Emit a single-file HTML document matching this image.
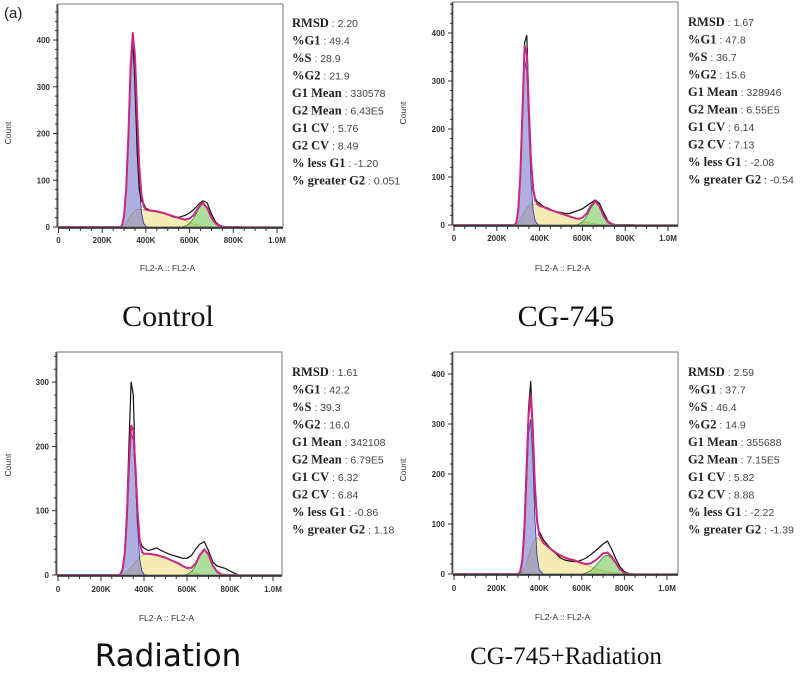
<!DOCTYPE html>
<html><head><meta charset="utf-8">
<style>
html,body{margin:0;padding:0;background:#fff;}
body{width:800px;height:679px;overflow:hidden;position:relative;font-family:"Liberation Sans",sans-serif;}
svg{position:absolute;left:0;top:0;}
</style></head>
<body>
<svg id="chart" width="800" height="679" viewBox="0 0 800 679"></svg>
<script>
// Shared x grid (FL2-A in K units)
const xs = [280,290,300,310,320,330,340,350,360,370,380,390,400,420,440,460,480,500,520,540,560,580,600,620,640,660,680,700,720,740,760,780,800,820,840];
const xTicks = [0,200,400,600,800,1000];
const xTickLabels = ["0","200K","400K","600K","800K","1.0M"];

// Control
const ctrlG1 = [0,2,20,75,180,320,385,330,200,90,30,8,1,0,0,0,0,0,0,0,0,0,0,0,0,0,0,0,0,0,0,0,0,0,0];
const ctrlS  = [0,0,2,8,16,24,30,35,38,38,38,37,36,35,34,32,30,27,24,21,18,14,10,6,4,2,1,0,0,0,0,0,0,0,0];
const ctrlG2 = [0,0,0,0,0,0,0,0,0,0,0,0,0,0,0,0,0,0,0,0,0,2,8,20,38,50,40,20,7,2,0,0,0,0,0];
const ctrlData=[0,3,22,80,190,340,410,300,160,80,55,50,40,36,35,33,30,27,22,20,22,25,30,38,48,56,52,28,10,3,1,0,0,0,0];
const ctrlStats = ["2.20","49.4","28.9","21.9","330578","6.43E5","5.76","8.49","-1.20","0.051"];
// CG-745
const cgG1 = [0,3,25,90,220,345,320,200,90,30,8,2,0,0,0,0,0,0,0,0,0,0,0,0,0,0,0,0,0,0,0,0,0,0,0];
const cgS  = [0,0,5,12,20,28,35,40,44,44,43,42,40,37,33,30,27,24,21,18,15,12,9,6,4,2,1,0,0,0,0,0,0,0,0];
const cgG2 = [0,0,0,0,0,0,0,0,0,0,0,0,0,0,0,0,0,0,0,0,0,1,6,18,36,48,38,18,6,1,0,0,0,0,0];
const cgData=[0,3,30,100,240,380,395,250,140,80,55,48,45,38,35,30,28,26,24,24,27,30,34,40,46,52,45,25,8,2,0,0,0,0,0];
const cgStats = ["1.67","47.8","36.7","15.6","328946","6.55E5","6.14","7.13","-2.08","-0.54"];
// Radiation
const radG1 = [0,1,8,30,80,160,220,210,150,75,25,6,1,0,0,0,0,0,0,0,0,0,0,0,0,0,0,0,0,0,0,0,0,0,0];
const radS  = [0,0,0,2,5,8,12,16,20,24,28,30,32,33,32,31,29,27,24,21,18,14,10,6,3,1,0,0,0,0,0,0,0,0,0];
const radG2 = [0,0,0,0,0,0,0,0,0,0,0,0,0,0,0,0,0,0,0,0,0,0,1,5,15,30,40,32,15,5,1,0,0,0,0];
const radData=[0,2,10,35,100,200,300,280,160,80,55,45,42,38,40,42,38,35,32,30,28,26,26,30,40,48,52,38,20,14,12,10,6,3,0];
const radStats = ["1.61","42.2","39.3","16.0","342108","6.79E5","6.32","6.84","-0.86","1.18"];
// CG-745 + Radiation
const comboG1 = [0,0,0,3,20,70,170,280,310,230,110,35,8,0,0,0,0,0,0,0,0,0,0,0,0,0,0,0,0,0,0,0,0,0,0];
const comboS  = [0,0,0,0,5,12,22,35,48,60,68,72,70,62,55,48,42,37,33,30,28,25,22,18,15,12,9,7,5,3,2,1,0,0,0];
const comboG2 = [0,0,0,0,0,0,0,0,0,0,0,0,0,0,0,0,0,0,0,0,0,0,0,2,6,14,24,34,38,32,20,8,2,0,0];
const comboData=[0,0,0,5,30,100,220,330,385,300,160,100,85,68,58,48,40,32,28,26,25,25,28,32,38,45,52,60,66,50,30,14,5,1,0];
const comboStats = ["2.59","37.7","46.4","14.9","355688","7.15E5","5.82","8.88","-2.22","-1.39"];

const statLabels = ["RMSD","%G1","%S","%G2","G1 Mean","G2 Mean","G1 CV","G2 CV","% less G1","% greater G2"];

const NS="http://www.w3.org/2000/svg";
const svg=document.getElementById('chart');
function mk(tag,attrs,parent){const e=document.createElementNS(NS,tag);for(const k in attrs)e.setAttribute(k,attrs[k]);(parent||svg).appendChild(e);return e;}

const panels=[
 {id:'control',title:'Control',tfont:'"Liberation Serif",serif',tsize:30,tx:168,ty:326,box:{l:58,r:283,t:4,b:227},x0:58.5,x1:277,ppu:0.4675,ymax:400,g1:ctrlG1,s:ctrlS,g2:ctrlG2,d:ctrlData,st:ctrlStats,sx:292,sy:23,cx:8,cy:133,lx:240,fy:268},
 {id:'cg745',title:'CG-745',tfont:'"Liberation Serif",serif',tsize:30,tx:566,ty:326,box:{l:453,r:678,t:2,b:225},x0:454,x1:668,ppu:0.48,ymax:400,g1:cgG1,s:cgS,g2:cgG2,d:cgData,st:cgStats,sx:688,sy:22,cx:403,cy:113,lx:238,fy:268},
 {id:'radiation',title:'Radiation',tfont:'"DejaVu Sans","Liberation Sans",sans-serif',tsize:31,tx:168,ty:666,box:{l:57,r:282,t:352,b:575},x0:58,x1:273,ppu:0.643,ymax:300,g1:radG1,s:radS,g2:radG2,d:radData,st:radStats,sx:292,sy:372,cx:8,cy:465,lx:589,fy:618},
 {id:'cg745-radiation',title:'CG-745+Radiation',tfont:'"Liberation Serif",serif',tsize:25,tx:566,ty:664,box:{l:453,r:678,t:352,b:574},x0:454,x1:667,ppu:0.5,ymax:400,g1:comboG1,s:comboS,g2:comboG2,d:comboData,st:comboStats,sx:688,sy:372,cx:403,cy:470,lx:588,fy:617}
];

const lbl=mk('text',{x:4,y:18,'font-size':15,fill:'#222','font-family':'"Liberation Sans",sans-serif'});
lbl.textContent='(a)';



panels.forEach(p=>{
 const g=mk('g',{});
 
 
 const X=v=>p.x0+v/1000*(p.x1-p.x0);
 const Y=v=>p.box.b-v*p.ppu;
 const clip=mk('clipPath',{id:'clip-'+p.id},g);
 mk('rect',{x:p.box.l,y:p.box.t,width:p.box.r-p.box.l,height:p.box.b-p.box.t},clip);
 const plot=mk('g',{'clip-path':'url(#clip-'+p.id+')'},g);
 function area(arr,fill,stroke,name){
  let d='M'+X(xs[0])+','+Y(0);
  xs.forEach((x,i)=>{d+=' L'+X(x).toFixed(1)+','+Y(arr[i]).toFixed(1);});
  d+=' L'+X(xs[xs.length-1])+','+Y(0)+' Z';
  const e=mk('path',{d:d,fill:fill,stroke:stroke,'stroke-width':0.8},plot);
  
  
 }
 function line(arr,stroke,w,name){
  let d='';
  xs.forEach((x,i)=>{d+=(i?' L':'M')+X(x).toFixed(1)+','+Y(arr[i]).toFixed(1);});
  const e=mk('path',{d:d,fill:'none',stroke:stroke,'stroke-width':w,'stroke-linejoin':'round'},plot);
  
  
 }
 area(p.s,'rgba(240,225,140,0.65)','#c9bd50','s-phase-area');
 area(p.g2,'rgba(120,200,90,0.6)','#2e8b2e','g2-area');
 area(p.g1,'rgba(110,110,200,0.55)','#3030a0','g1-area');
 const fit=xs.map((x,i)=>p.g1[i]+p.s[i]+p.g2[i]);
 line(p.d,'#111',1.2,'data-histogram');
 line(fit,'#c8287f',2,'model-fit-line');
 mk('line',{x1:p.box.l,x2:X(xs[0]),y1:p.box.b,y2:p.box.b,stroke:'#c8287f','stroke-width':2},plot);
 mk('line',{x1:X(xs[xs.length-1]),x2:p.box.r,y1:p.box.b,y2:p.box.b,stroke:'#c8287f','stroke-width':1.5},plot);
 const bx=mk('rect',{x:p.box.l,y:p.box.t,width:p.box.r-p.box.l,height:p.box.b-p.box.t,fill:'none',stroke:'#777','stroke-width':1},g);
 
 
 mk('line',{x1:p.box.l,x2:p.box.r,y1:p.box.b+1,y2:p.box.b+1,stroke:'#222','stroke-width':1.5},g);
 mk('line',{x1:p.box.l-1,x2:p.box.l-1,y1:p.box.t,y2:p.box.b,stroke:'#333','stroke-width':1},g);
 for(let v=0;Y(v)>=p.box.t;v+=20){mk('line',{x1:p.box.l-(v%100===0?5:3),x2:p.box.l,y1:Y(v),y2:Y(v),stroke:'#333','stroke-width':1},g);}
 for(let v=0;v<=p.ymax;v+=100){
  const t=mk('text',{x:p.box.l-8,y:Y(v)+3,'font-size':8,'text-anchor':'end',fill:'#333','font-weight':'bold'},g);
  t.textContent=String(v);
  
  
 }
 for(let v=0;v<=1040;v+=50){const xx=X(v);if(xx>p.box.r)break;mk('line',{x1:xx,x2:xx,y1:p.box.b+1,y2:p.box.b+(v%200===0?6:4),stroke:'#333','stroke-width':1},g);}
 xTicks.forEach((v,i)=>{
  const t=mk('text',{x:X(v),y:p.lx+3,'font-size':8,'text-anchor':'middle',fill:'#333','font-weight':'bold'},g);
  t.textContent=xTickLabels[i];
  
  
 });
 const xt=mk('text',{x:(p.box.l+p.box.r)/2-3,y:p.fy+3,'font-size':8.5,'text-anchor':'middle',fill:'#333'},g);
 xt.textContent='FL2-A :: FL2-A';
 
 
 const yt=mk('text',{x:p.cx,y:p.cy,'font-size':8.5,'text-anchor':'middle',fill:'#333',transform:'rotate(-90 '+p.cx+' '+p.cy+')',dy:3},g);
 yt.textContent='Count';
 
 
 statLabels.forEach((l,i)=>{
  const t=mk('text',{x:p.sx,y:p.sy+i*17.5+4,'font-size':12.5,fill:'#222'},g);
  const a=mk('tspan',{'font-family':'"Liberation Serif",serif','font-weight':'bold'},t);a.textContent=l;
  const b=mk('tspan',{'font-family':'"Liberation Sans",sans-serif','font-size':10.5,fill:'#444'},t);b.textContent=' : '+p.st[i];
  
  
 });
 const tt=mk('text',{x:p.tx,y:p.ty,'font-size':p.tsize,'text-anchor':'middle',fill:'#111','font-family':p.tfont},g);
 tt.textContent=p.title;
 
 
});
</script>
</body></html>
